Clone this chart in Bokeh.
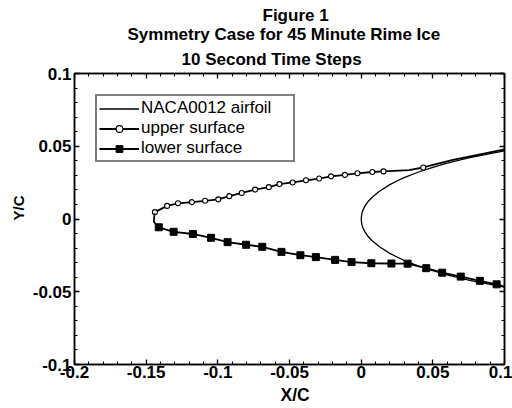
import math
from bokeh.plotting import figure
from bokeh.models import (Range1d, LinearAxis, Title, Legend, LegendItem,
                          SingleIntervalTicker, CustomJSTickFormatter)
from bokeh.embed import file_html
from bokeh.resources import INLINE

# ---------------- data ----------------
title_lines = ["Figure 1", "Symmetry Case for 45 Minute Rime Ice", "10 Second Time Steps"]
x_title = "X/C"
y_title = "Y/C"
series_names = ["NACA0012 airfoil", "upper surface", "lower surface"]

# NACA0012 airfoil contour (lower side -> nose -> upper side)
airfoil_x = [0.1, 0.09, 0.075, 0.06, 0.05, 0.04, 0.03, 0.025, 0.02, 0.0125, 0.0075,
             0.005, 0.0025, 0.00125, 0.0005, 0.0,
             0.0005, 0.00125, 0.0025, 0.005, 0.0075, 0.0125, 0.02, 0.025, 0.03,
             0.04, 0.05, 0.06, 0.075, 0.09, 0.1]
airfoil_y = [-0.0468, -0.0450, -0.0420, -0.0384, -0.0355, -0.0323, -0.0284, -0.0261,
             -0.0236, -0.0189, -0.0148, -0.0122, -0.0087, -0.0062, -0.0039, 0.0,
             0.0039, 0.0062, 0.0087, 0.0122, 0.0148, 0.0189, 0.0236, 0.0261, 0.0284,
             0.0323, 0.0355, 0.0384, 0.0420, 0.0450, 0.0468]

# upper ice surface (all vertices) and which vertices carry a symbol
upper_x = [-0.1439, -0.1354, -0.1278, -0.1181, -0.1089, -0.0997, -0.0920, -0.0833,
           -0.0740, -0.0644, -0.0570, -0.0478, -0.0385, -0.0293, -0.0210, -0.0113,
           -0.0026, 0.0078, 0.0156, 0.0333, 0.0433, 0.0640, 0.0830, 0.1000]
upper_y = [0.0047, 0.0090, 0.0108, 0.0116, 0.0125, 0.0135, 0.0157, 0.0179,
           0.0202, 0.0219, 0.0240, 0.0251, 0.0266, 0.0278, 0.0293, 0.0303,
           0.0314, 0.0323, 0.0327, 0.0336, 0.0354, 0.0406, 0.0444, 0.0478]
upper_marked = [0, 1, 2, 3, 4, 5, 6, 7, 8, 9, 10, 11, 12, 13, 14, 15, 16, 17, 18, 20]

# lower ice surface (all vertices) and which vertices carry a symbol
lower_x = [-0.1442, -0.1446, -0.1412, -0.1308, -0.1174, -0.1047, -0.0932, -0.0803,
           -0.0690, -0.0556, -0.0424, -0.0316, -0.0182, -0.0067, 0.0071, 0.0211,
           0.0324, 0.0454, 0.0565, 0.0695, 0.0828, 0.0945, 0.1000]
lower_y = [0.0040, -0.0020, -0.0057, -0.0088, -0.0103, -0.0129, -0.0159, -0.0177,
           -0.0191, -0.0226, -0.0249, -0.0262, -0.0281, -0.0296, -0.0304, -0.0306,
           -0.0307, -0.0338, -0.0369, -0.0396, -0.0425, -0.0449, -0.0465]
lower_marked = list(range(2, 22))

FONT = "Liberation Sans"

# ---------------- figure ----------------
p = figure(width=512, height=408, output_backend="svg", toolbar_location=None,
           x_range=Range1d(-0.2, 0.1), y_range=Range1d(-0.1, 0.1),
           min_border_left=74, min_border_right=8, min_border_top=73,
           min_border_bottom=44, background_fill_color="white",
           border_fill_color="white")
p.xgrid.visible = False
p.ygrid.visible = False
p.outline_line_color = "black"
p.outline_line_width = 1.5

fmt = CustomJSTickFormatter(code="return String(parseFloat(tick.toFixed(2)));")
blank = CustomJSTickFormatter(code="return '';")
ax_bottom = p.below[0]
ax_left = p.left[0]
ax_top = LinearAxis()
ax_right = LinearAxis()
p.add_layout(ax_top, "above")
p.add_layout(ax_right, "right")

for ax in (ax_bottom, ax_top, ax_left, ax_right):
    ax.ticker = SingleIntervalTicker(interval=0.05, num_minor_ticks=5)
    ax.axis_line_color = "black"
    ax.axis_line_width = 1.5
    ax.major_tick_in = 5
    ax.major_tick_out = 0
    ax.minor_tick_in = 3
    ax.minor_tick_out = 0
    ax.major_tick_line_color = "black"
    ax.minor_tick_line_color = "black"
    ax.major_tick_line_width = 1.3
    ax.minor_tick_line_width = 1.0
    ax.formatter = fmt
    ax.major_label_text_font = FONT
    ax.major_label_text_font_style = "bold"
    ax.major_label_text_font_size = "17px"
    ax.major_label_text_color = "black"

ax_bottom.major_label_standoff = 1
ax_left.major_label_standoff = 3
for ax in (ax_top, ax_right):
    ax.formatter = blank
    ax.major_label_text_font_size = "0px"
    ax.major_label_standoff = 0

# ---------------- glyphs ----------------
r_air = p.line(airfoil_x, airfoil_y, line_color="black", line_width=1.3)

r_up_line = p.line(upper_x, upper_y, line_color="black", line_width=1.8)
r_up_mark = p.scatter([upper_x[i] for i in upper_marked], [upper_y[i] for i in upper_marked],
                      marker="circle", size=5, line_color="black", line_width=1.1,
                      fill_color="white")

r_lo_line = p.line(lower_x, lower_y, line_color="black", line_width=1.8)
r_lo_mark = p.scatter([lower_x[i] for i in lower_marked], [lower_y[i] for i in lower_marked],
                      marker="square", size=7, line_color="black", fill_color="black")

legend = Legend(items=[LegendItem(label=series_names[0], renderers=[r_air]),
                       LegendItem(label=series_names[1], renderers=[r_up_line, r_up_mark]),
                       LegendItem(label=series_names[2], renderers=[r_lo_line, r_lo_mark])],
                location="top_left", margin=21, padding=2, spacing=0,
                glyph_width=40, glyph_height=17, label_height=17, label_width=150,
                label_standoff=2, label_text_font=FONT, label_text_font_size="17px",
                label_text_color="black", border_line_color="black",
                border_line_width=2, background_fill_color="white",
                background_fill_alpha=1.0)
p.add_layout(legend)

# ---------------- texts (titles outside the frame) ----------------
# added from the frame outward: last line first
title_specs = [(title_lines[2], 107, 10), (title_lines[1], 53, -3.5), (title_lines[0], 188, 0)]
for txt, off, so in title_specs:
    p.add_layout(Title(text=txt, align="left", offset=off, standoff=so,
                       text_font=FONT, text_font_style="bold",
                       text_font_size="17px", text_color="black"), "above")

p.add_layout(Title(text=x_title, align="left", offset=206, standoff=4.5,
                   text_font=FONT, text_font_style="bold", text_font_size="17.5px",
                   text_color="black"), "below")
p.add_layout(Title(text=y_title, align="left", offset=144, standoff=6,
                   text_font=FONT, text_font_style="bold", text_font_size="15px",
                   text_color="black"), "left")

open("out.html", "w").write(file_html(p, INLINE))
